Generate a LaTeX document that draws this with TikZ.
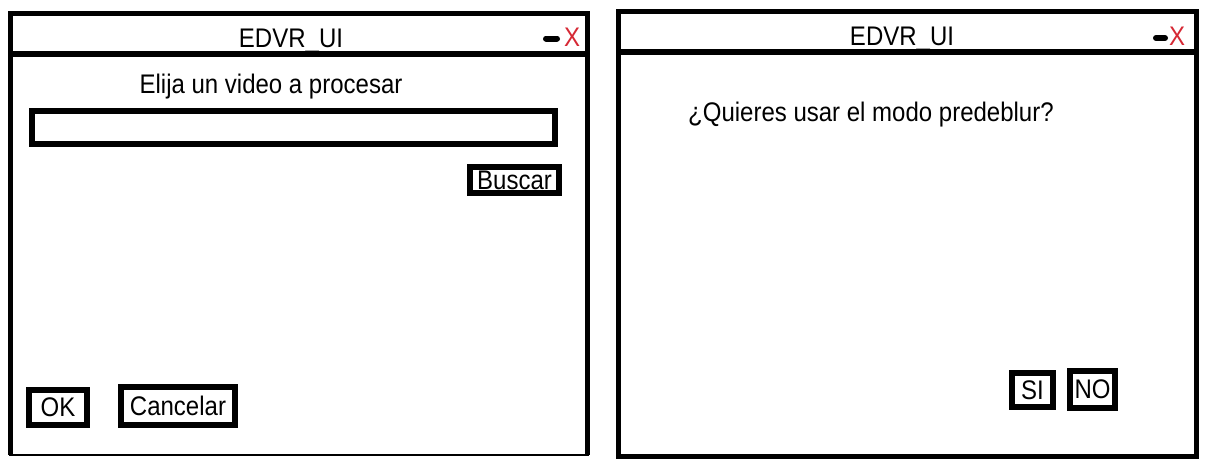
\documentclass[tikz,border=0pt]{standalone}
\usepackage{fontspec}
\usepackage{graphicx}
\setmainfont{Liberation Sans}
\newcommand{\tallt}[1]{\scalebox{1}[1.12]{#1}}
\begin{document}
\begin{tikzpicture}[x=1pt,y=-1pt,
  frame/.style={line width=5pt},
  thinframe/.style={line width=2pt},
  txt/.style={font=\fontsize{24}{28}\selectfont, inner sep=0pt},
  btn/.style={draw, line width=6pt, inner sep=0pt, font=\fontsize{24}{28}\selectfont},
  minbar/.style={line width=6pt, line cap=round},
  closex/.style={font=\fontsize{24}{28}\selectfont, text=xred, inner sep=0pt, anchor=base}]
\definecolor{xred}{RGB}{214,40,52}
\useasboundingbox (0,0) rectangle (1211,472);
\fill[white] (0,0) rectangle (1211,472);
% left window
\draw[frame] (10.5,455) -- (10.5,13.5) -- (587.5,13.5) -- (587.5,455);
\draw[thinframe] (9,455) -- (589,455);
\draw[frame, line width=6pt] (10.5,53.5) -- (587.5,53.5);
\node[txt, anchor=base] (t1) at (291,47) {\tallt{EDVR\_UI}};
\draw[minbar] (546,38.5) -- (557,38.5);
\node[closex] (x1) at (572,46) {\tallt{X}};
\node[txt] (q1) at (271,87) {\tallt{Elija un video a procesar}};
\node[draw, line width=6pt, minimum width=523, minimum height=33] (tb) at (293.5,127.5) {};
\node[btn, minimum width=89, minimum height=26] (buscar) at (514.5,180) {\tallt{Buscar}};
\node[btn, minimum width=58, minimum height=35] (ok) at (58,407) {\tallt{OK}};
\node[btn, minimum width=114, minimum height=38] (cancel) at (178,405.5) {\tallt{Cancelar}};
% right window
\draw[frame] (618.5,456) rectangle (1196,11.5);
\draw[frame, line width=6pt] (618.5,52) -- (1196,52);
\node[txt, anchor=base] (t2) at (902,45.5) {\tallt{EDVR\_UI}};
\draw[minbar] (1156,38) -- (1165,38);
\node[closex] (x2) at (1177,45) {\tallt{X}};
\node[txt, anchor=west] (q2) at (688,115) {\tallt{¿Quieres usar el modo predeblur?}};
\node[btn, minimum width=41, minimum height=34] (si) at (1032.5,390) {\tallt{SI}};
\node[btn, minimum width=45, minimum height=37] (no) at (1092.5,389.5) {\tallt{NO}};
\end{tikzpicture}
\end{document}
